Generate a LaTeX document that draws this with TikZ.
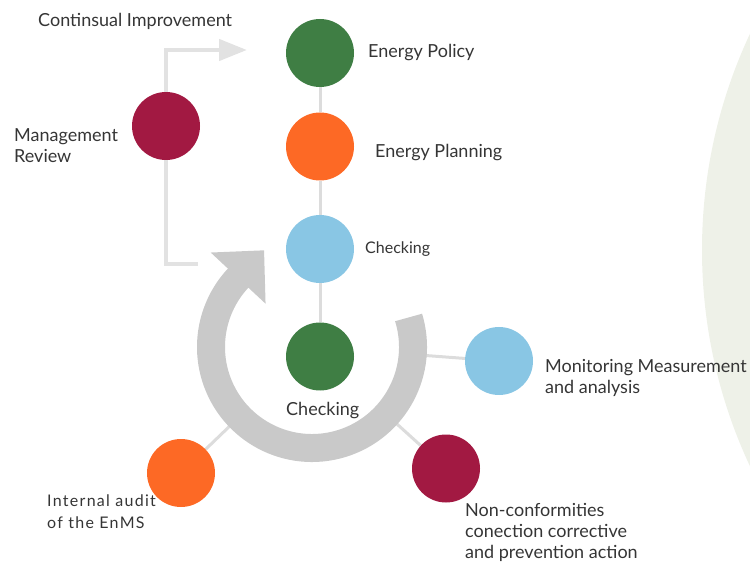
\documentclass[tikz,border=0pt]{standalone}
\usepackage{fontspec}
\setmainfont{Lato}
\usetikzlibrary{arrows.meta,calc}
\definecolor{sdgreen}{HTML}{3F7E44}
\definecolor{sdorange}{HTML}{FD6925}
\definecolor{sdblue}{HTML}{89C6E4}
\definecolor{sdred}{HTML}{A21942}
\definecolor{ringgray}{HTML}{C9C9C9}
\definecolor{spokegray}{HTML}{DCDCDC}
\definecolor{lgray}{HTML}{E2E2E2}
\definecolor{palebg}{HTML}{EEF1E8}
\definecolor{txt}{HTML}{353535}
\pgfdeclarelayer{palelayer}
\pgfdeclarelayer{bglayer}
\pgfsetlayers{palelayer,bglayer,main}
\begin{document}
\begin{tikzpicture}[x=1pt,y=1pt,
  dot/.style={circle,minimum size=68pt,inner sep=0pt,fill=#1},
  lbl/.style={anchor=base west,inner sep=0pt,text=txt,align=left,font=\fontsize{18}{21}\selectfont},
  slbl/.style={lbl,font=\fontsize{16}{21}\selectfont},
  wlbl/.style={lbl,font=\fontsize{16}{21.5}\selectfont\addfontfeature{LetterSpace=8}},
  spoke/.style={draw=spokegray,line width=3pt},
  ring/.style={draw=ringgray,line width=28pt},
  lconn/.style={draw=lgray,line width=4.5pt,-{Triangle[length=28pt,width=21pt]}}
]
\useasboundingbox (0,0) rectangle (750,563);
\begin{pgfonlayer}{palelayer}
\clip (0,0) rectangle (750,563);
\fill[palebg] (1212,313) circle[radius=510];
\end{pgfonlayer}

\node[dot=sdgreen] (policy) at (320,510) {};
\node[dot=sdorange] (planning) at (320,416.5) {};
\node[dot=sdblue] (check) at (320,314) {};
\node[dot=sdgreen] (do) at (320,206.5) {};
\node[dot=sdred] (review) at (166,437) {};
\node[dot=sdblue] (monitor) at (499,202) {};
\node[dot=sdorange] (audit) at (181,90) {};
\node[dot=sdred] (nonconf) at (446,94.5) {};
\coordinate (C) at (312,216);
\coordinate (lb) at (198,299);
\coordinate (lt) at (247,513);

\begin{pgfonlayer}{bglayer}
\draw[spoke] (policy) -- (planning);
\draw[spoke] (planning) -- (check);
\draw[spoke] (check) -- (do);
\draw[spoke] ($(C)!105pt!(monitor)$) -- (monitor);
\draw[spoke] ($(C)!105pt!(audit)$) -- (audit);
\draw[spoke] ($(C)!105pt!(nonconf)$) -- (nonconf);
\draw[lconn] (lb) -- (lb -| review) -- (lt -| review) -- (lt);
\draw[ring] ($(C)+(17:101)$) arc[start angle=17,end angle=-223.5,radius=101];
\fill[ringgray] ($(C)+(137:138.5)$) -- ($(C)+(137:63.5)$) -- ($(C)+(137:101)+(47:38)$) -- cycle;
\end{pgfonlayer}

\node[lbl] (tci) at (38,536) {Continsual Improvement};
\node[lbl] (tpol) at (368,505) {Energy Policy};
\node[lbl] (tpla) at (375,405) {Energy Planning};
\node[slbl] (tchk) at (365,309) {Checking};
\node[lbl] (tdo) at (286,148) {Checking};
\node[lbl] (trev) at (14,400) {Management\\Review};
\node[lbl] (tmon) at (545,169) {Monitoring Measurement\\and analysis};
\node[wlbl] (taud) at (47,35) {Internal audit\\of the EnMS};
\node[lbl] (tnc) at (465,5) {Non-conformities\\conection corrective\\and prevention action};
\end{tikzpicture}
\end{document}
